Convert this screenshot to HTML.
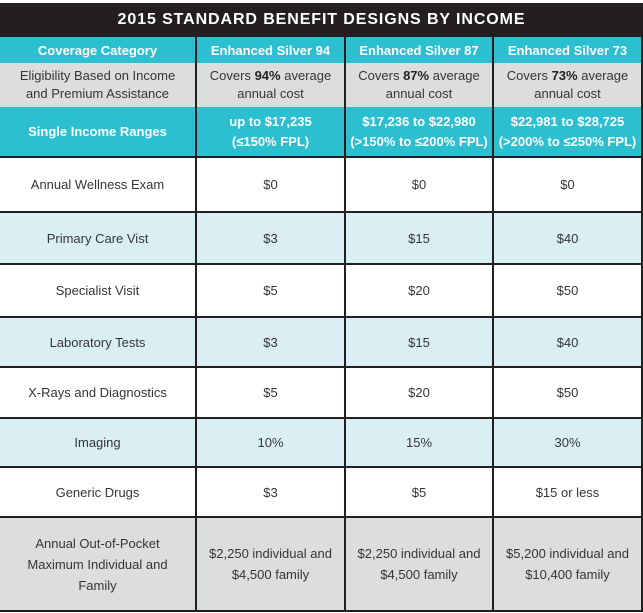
<!DOCTYPE html>
<html>
<head>
<meta charset="utf-8">
<style>
*{margin:0;padding:0;box-sizing:border-box;}
html,body{width:643px;height:613px;background:#fff;overflow:hidden;}
body{position:relative;font-family:"Liberation Sans",sans-serif;color:#353535;}
.bg{position:absolute;}
.c{position:absolute;display:flex;align-items:center;justify-content:center;text-align:center;font-size:13px;}
.h{color:#fff;font-weight:bold;}
.ln{position:absolute;background:#231f20;}
b{font-weight:bold;color:#222;}
</style>
</head>
<body>
<!-- backgrounds -->
<div class="bg" style="left:0;top:3px;width:643px;height:34px;background:#231f20;"></div>
<div class="bg" style="left:0;top:37px;width:642px;height:26px;background:#2bbfcf;"></div>
<div class="bg" style="left:0;top:63px;width:642px;height:44px;background:#dcdddf;"></div>
<div class="bg" style="left:0;top:107px;width:642px;height:50px;background:#2bbfcf;"></div>
<div class="bg" style="left:0;top:212px;width:642px;height:52px;background:#d9eff4;"></div>
<div class="bg" style="left:0;top:317px;width:642px;height:50px;background:#d9eff4;"></div>
<div class="bg" style="left:0;top:418px;width:642px;height:49px;background:#d9eff4;"></div>
<div class="bg" style="left:0;top:517px;width:642px;height:94px;background:#dcdddf;"></div>

<!-- lines -->
<div class="ln" style="left:195px;top:37px;width:2px;height:575px;"></div>
<div class="ln" style="left:344px;top:37px;width:2px;height:575px;"></div>
<div class="ln" style="left:492px;top:37px;width:2px;height:575px;"></div>
<div class="ln" style="left:641px;top:37px;width:2px;height:575px;"></div>
<div class="ln" style="left:0;top:156px;width:643px;height:2px;"></div>
<div class="ln" style="left:0;top:211px;width:643px;height:2px;"></div>
<div class="ln" style="left:0;top:263px;width:643px;height:2px;"></div>
<div class="ln" style="left:0;top:316px;width:643px;height:2px;"></div>
<div class="ln" style="left:0;top:366px;width:643px;height:2px;"></div>
<div class="ln" style="left:0;top:417px;width:643px;height:2px;"></div>
<div class="ln" style="left:0;top:466px;width:643px;height:2px;"></div>
<div class="ln" style="left:0;top:516px;width:643px;height:2px;"></div>
<div class="ln" style="left:0;top:610px;width:643px;height:2px;"></div>

<!-- title -->
<div class="c h" style="left:0;top:3px;width:643px;height:34px;font-size:16px;letter-spacing:0.9px;">2015 STANDARD BENEFIT DESIGNS BY INCOME</div>

<!-- header row -->
<div class="c h" style="left:0;top:37px;width:195px;height:26px;">Coverage Category</div>
<div class="c h" style="left:197px;top:37px;width:147px;height:26px;">Enhanced Silver 94</div>
<div class="c h" style="left:346px;top:37px;width:146px;height:26px;">Enhanced Silver 87</div>
<div class="c h" style="left:494px;top:37px;width:147px;height:26px;">Enhanced Silver 73</div>

<!-- eligibility row -->
<div class="c" style="left:0;top:63px;width:195px;height:44px;line-height:18px;">Eligibility Based on Income<br>and Premium Assistance</div>
<div class="c" style="left:197px;top:63px;width:147px;height:44px;line-height:18px;"><span>Covers <b>94%</b> average<br>annual cost</span></div>
<div class="c" style="left:346px;top:63px;width:146px;height:44px;line-height:18px;"><span>Covers <b>87%</b> average<br>annual cost</span></div>
<div class="c" style="left:494px;top:63px;width:147px;height:44px;line-height:18px;"><span>Covers <b>73%</b> average<br>annual cost</span></div>

<!-- income row -->
<div class="c h" style="left:0;top:107px;width:195px;height:49px;">Single Income Ranges</div>
<div class="c h" style="left:197px;top:107px;width:147px;height:49px;line-height:20px;">up to $17,235<br>(≤150% FPL)</div>
<div class="c h" style="left:346px;top:107px;width:146px;height:49px;line-height:20px;">$17,236 to $22,980<br>(&gt;150% to ≤200% FPL)</div>
<div class="c h" style="left:494px;top:107px;width:147px;height:49px;line-height:20px;">$22,981 to $28,725<br>(&gt;200% to ≤250% FPL)</div>

<!-- data rows -->
<div class="c" style="left:0;top:158px;width:195px;height:53px;">Annual Wellness Exam</div>
<div class="c" style="left:197px;top:158px;width:147px;height:53px;">$0</div>
<div class="c" style="left:346px;top:158px;width:146px;height:53px;">$0</div>
<div class="c" style="left:494px;top:158px;width:147px;height:53px;">$0</div>

<div class="c" style="left:0;top:213px;width:195px;height:50px;">Primary Care Vist</div>
<div class="c" style="left:197px;top:213px;width:147px;height:50px;">$3</div>
<div class="c" style="left:346px;top:213px;width:146px;height:50px;">$15</div>
<div class="c" style="left:494px;top:213px;width:147px;height:50px;">$40</div>

<div class="c" style="left:0;top:265px;width:195px;height:51px;">Specialist Visit</div>
<div class="c" style="left:197px;top:265px;width:147px;height:51px;">$5</div>
<div class="c" style="left:346px;top:265px;width:146px;height:51px;">$20</div>
<div class="c" style="left:494px;top:265px;width:147px;height:51px;">$50</div>

<div class="c" style="left:0;top:318px;width:195px;height:48px;">Laboratory Tests</div>
<div class="c" style="left:197px;top:318px;width:147px;height:48px;">$3</div>
<div class="c" style="left:346px;top:318px;width:146px;height:48px;">$15</div>
<div class="c" style="left:494px;top:318px;width:147px;height:48px;">$40</div>

<div class="c" style="left:0;top:368px;width:195px;height:49px;">X-Rays and Diagnostics</div>
<div class="c" style="left:197px;top:368px;width:147px;height:49px;">$5</div>
<div class="c" style="left:346px;top:368px;width:146px;height:49px;">$20</div>
<div class="c" style="left:494px;top:368px;width:147px;height:49px;">$50</div>

<div class="c" style="left:0;top:419px;width:195px;height:47px;">Imaging</div>
<div class="c" style="left:197px;top:419px;width:147px;height:47px;">10%</div>
<div class="c" style="left:346px;top:419px;width:146px;height:47px;">15%</div>
<div class="c" style="left:494px;top:419px;width:147px;height:47px;">30%</div>

<div class="c" style="left:0;top:468px;width:195px;height:48px;">Generic Drugs</div>
<div class="c" style="left:197px;top:468px;width:147px;height:48px;">$3</div>
<div class="c" style="left:346px;top:468px;width:146px;height:48px;">$5</div>
<div class="c" style="left:494px;top:468px;width:147px;height:48px;">$15 or less</div>

<div class="c" style="left:0;top:518px;width:195px;height:92px;line-height:21px;">Annual Out-of-Pocket<br>Maximum Individual and<br>Family</div>
<div class="c" style="left:197px;top:518px;width:147px;height:92px;line-height:21px;">$2,250 individual and<br>$4,500 family</div>
<div class="c" style="left:346px;top:518px;width:146px;height:92px;line-height:21px;">$2,250 individual and<br>$4,500 family</div>
<div class="c" style="left:494px;top:518px;width:147px;height:92px;line-height:21px;">$5,200 individual and<br>$10,400 family</div>
</body>
</html>
